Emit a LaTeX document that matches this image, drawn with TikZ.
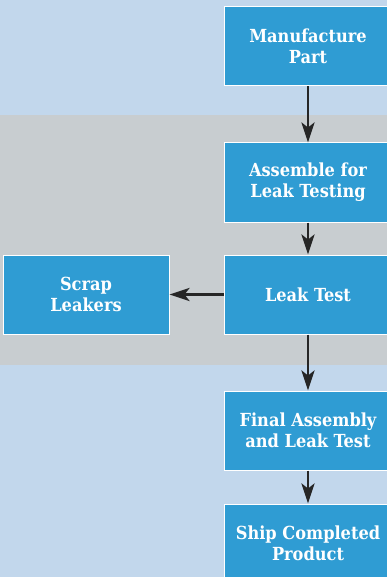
\documentclass[tikz,border=0pt]{standalone}
\usepackage{fontspec}
\setmainfont{DejaVu Serif Condensed}
\usetikzlibrary{positioning,arrows.meta}
\definecolor{skyback}{HTML}{C2D7EC}
\definecolor{greyband}{HTML}{C8CDD0}
\definecolor{boxblue}{HTML}{2F9CD3}
\begin{document}
\begin{tikzpicture}[
x=1pt,y=1pt,
stage/.style={
  draw=white,
  line width=1pt,
  fill=boxblue,
  text=white,
  font=\fontsize{18}{21}\selectfont\bfseries,
  align=center,
  minimum width=168pt,
  minimum height=79pt,
  inner sep=0pt
},
flow/.style={
  draw=black!85,
  line width=2.8pt,
  -{Stealth[length=20pt,width=13pt,inset=5pt]}
}
]
\useasboundingbox (0,0) rectangle (387,-577);
\clip (0,0) rectangle (387,-577);
% background bands
\fill[skyback] (0,0) rectangle (387,-577);
\fill[greyband] (0,-115) rectangle (387,-365);

\node[stage] at (308,-46.5)
  (make) {Manufacture\\Part};
\node[stage,below=56pt of make]
  (assemble) {Assemble for\\Leak Testing};
\node[stage,below=32pt of assemble]
  (leak) {Leak Test};
\node[stage,minimum width=166pt,left=54pt of leak]
  (scrap) {Scrap\\Leakers};
\node[stage,below=56pt of leak]
  (final) {Final Assembly\\and Leak Test};
\node[stage,below=33pt of final]
  (ship) {Ship Completed\\Product};

\draw[flow] (make) -- (assemble);
\draw[flow] (assemble) -- (leak);
\draw[flow] (leak) -- (scrap);
\draw[flow] (leak) -- (final);
\draw[flow] (final) -- (ship);
\end{tikzpicture}
\end{document}
